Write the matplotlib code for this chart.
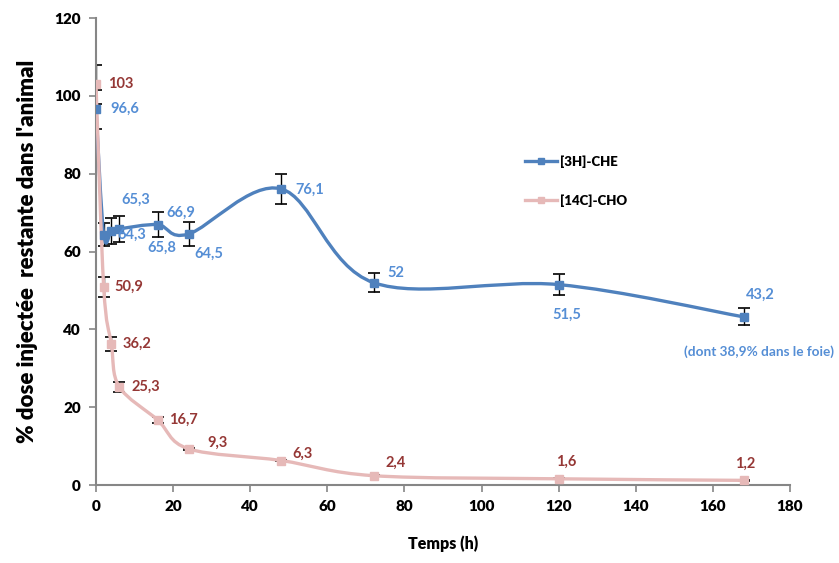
import matplotlib.pyplot as plt
from matplotlib.path import Path
from matplotlib.patches import PathPatch
from matplotlib.lines import Line2D

plt.rcParams['font.family'] = ['Lato', 'DejaVu Sans']
plt.rcParams['font.weight'] = 'bold'

# sampling times (h)
temps = [0, 2, 4, 6, 16, 24, 48, 72, 120, 168]

# [3H]-CHE : % of injected dose and error
che = [96.6, 64.3, 65.3, 65.8, 66.9, 64.5, 76.1, 52, 51.5, 43.2]
che_err = [5, 3, 3.4, 3.3, 3.2, 3, 3.8, 2.5, 2.6, 2.2]

# [14C]-CHO : % of injected dose and error
cho = [103, 50.9, 36.2, 25.3, 16.7, 9.3, 6.3, 2.4, 1.6, 1.2]
cho_err = [5, 2.5, 1.8, 1.3, 0.8, 0.3, 0.2, 0.2, 0.1, 0.1]

# label offsets in pixels (dx, dy) from each point
che_off = [(14, 0), (14, 0), (10, 31), (28, -19), (9, 12), (6, -20),
           (14, -1), (14, 10), (-6, -30), (2, 22)]
cho_off = [(12, 0), (11, 0), (11, 0), (12, 0), (11, 0), (19, 6),
           (11, 7), (12, 13), (-3, 17), (-9, 17)]

blue = '#4F81BD'
pink = '#E6B9B8'
blue_txt = '#558ED5'
red_txt = '#953735'
grey = '#868686'


def smooth_path(x, y):
    # Excel-style smoothed line: cubic Bezier through every point
    n = len(x)
    pts = list(zip(x, y))
    verts = [pts[0]]
    codes = [Path.MOVETO]
    for i in range(n - 1):
        p0 = pts[max(i - 1, 0)]
        p1 = pts[i]
        p2 = pts[i + 1]
        p3 = pts[min(i + 2, n - 1)]
        c1 = (p1[0] + (p2[0] - p0[0]) / 6, p1[1] + (p2[1] - p0[1]) / 6)
        c2 = (p2[0] - (p3[0] - p1[0]) / 6, p2[1] - (p3[1] - p1[1]) / 6)
        verts += [c1, c2, p2]
        codes += [Path.CURVE4] * 3
    return Path(verts, codes)


fig = plt.figure(figsize=(8.39, 5.63), dpi=100)
ax = fig.add_axes([0.1144, 0.1385, 0.8272, 0.8295])

for vals, errs, col, txtcol, offs in [(che, che_err, blue, blue_txt, che_off),
                                      (cho, cho_err, pink, red_txt, cho_off)]:
    ax.errorbar(temps, vals, yerr=errs, fmt='none', ecolor='black',
                elinewidth=1, capsize=4, capthick=1.2, zorder=2)
    ax.add_patch(PathPatch(smooth_path(temps, vals), facecolor='none',
                           edgecolor=col, lw=2.4, zorder=3,
                           capstyle='round', joinstyle='round'))
    ax.plot(temps, vals, linestyle='none', marker='s', markersize=5.5,
            color=col, zorder=4)
    for t, v, (dx, dy) in zip(temps, vals, offs):
        ax.annotate(f'{v:g}'.replace('.', ','), (t, v), xytext=(dx, dy),
                    textcoords='offset pixels', ha='left', va='center',
                    color=txtcol, fontsize=10.5, fontweight='bold', zorder=5)

ax.text(172, 34.2, '(dont 38,9% dans le foie)', color=blue_txt, fontsize=9.8,
        fontweight='bold', ha='center', va='center', clip_on=False)

ax.set_xlim(0, 180)
ax.set_ylim(0, 120)
ax.set_xticks(range(0, 181, 20))
ax.set_yticks(range(0, 121, 20))
for s in ['top', 'right']:
    ax.spines[s].set_visible(False)
for s in ['left', 'bottom']:
    ax.spines[s].set_color(grey)
    ax.spines[s].set_linewidth(1.5)
ax.tick_params(colors=grey, length=5, width=1.2, labelcolor='black',
               labelsize=11, pad=6)
for lbl in ax.get_xticklabels() + ax.get_yticklabels():
    lbl.set_fontweight('heavy')

ax.set_xlabel('Temps (h)', fontsize=11.5, fontweight='heavy', labelpad=16)
ax.set_ylabel("% dose injectée  restante dans l'animal", fontsize=16,
              fontweight='heavy', labelpad=12)

handles = [Line2D([], [], color=blue, lw=2.4, marker='s', markersize=5),
           Line2D([], [], color=pink, lw=2.4, marker='s', markersize=5)]
ax.legend(handles, ['[3H]-CHE', '[14C]-CHO'], loc='upper left',
          bbox_to_anchor=(520 / 839, 1 - 150 / 563), bbox_transform=fig.transFigure,
          frameon=False, prop={'size': 9.5, 'weight': 'heavy'},
          handlelength=2.4, handletextpad=0.2, labelspacing=2.0,
          borderaxespad=0)

fig.savefig('out.png', dpi=100)
